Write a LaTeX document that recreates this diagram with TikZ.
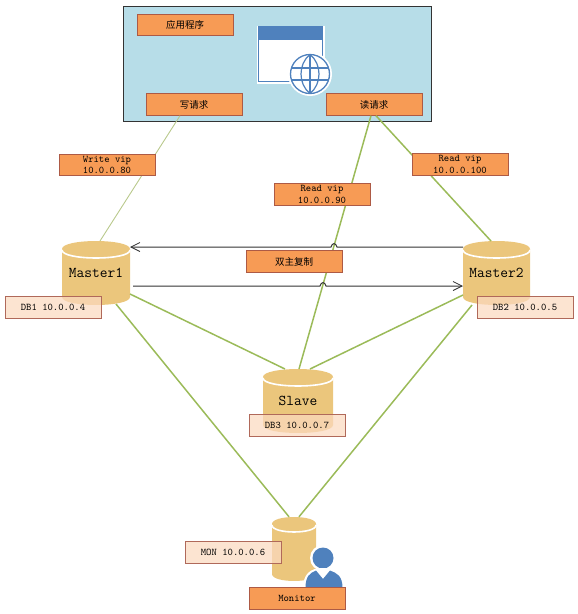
\documentclass[tikz,border=0pt]{standalone}
\usepackage{fontspec}
\newfontfamily\cjk{Noto Sans CJK SC}[Scale=1.0]
\usetikzlibrary{arrows.meta}
\definecolor{orangefill}{HTML}{F79B55}
\definecolor{orangeedge}{HTML}{AD5A45}
\definecolor{paleedge}{HTML}{B0695A}
\definecolor{palefill}{HTML}{FBD9BF}
\definecolor{cyl}{HTML}{EBC67C}
\definecolor{linkgreen}{HTML}{9BBB59}
\definecolor{thingreen}{HTML}{B9C98C}
\definecolor{iconblue}{HTML}{4F81BD}
\definecolor{appfill}{HTML}{B7DDE8}
\tikzset{
  lab/.style={draw=orangeedge,fill=orangefill,line width=0.9pt,minimum width=96pt,minimum height=21.5pt,inner sep=0pt,align=center,font=\ttfamily\fontsize{10.2}{11.5}\selectfont},
  cjklab/.style={lab,font=\cjk\fontsize{9.5}{11}\selectfont},
  pale/.style={draw=paleedge,fill=palefill,fill opacity=0.72,text opacity=1,line width=0.9pt,minimum width=96pt,minimum height=21.5pt,inner sep=0pt,font=\ttfamily\fontsize{10.2}{11}\selectfont},
  dbtext/.style={minimum width=#1,inner sep=0pt,font=\ttfamily\fontsize{15}{17}\selectfont},
  link/.style={draw=linkgreen,line width=1.5pt},
  thinlink/.style={draw=thingreen,line width=0.9pt},
  repl/.style={draw=black!80,line width=1pt,-{Straight Barb[length=9pt,width=9pt,line width=0.8pt]}},
}
% x, top y, width, height, ry
\newcommand{\dbshape}[5]{%
  \fill[cyl] (#1,#2+#5) -- (#1,#2+#4-#5)
     .. controls (#1,#2+#4+0.33*#5) and (#1+#3,#2+#4+0.33*#5) .. (#1+#3,#2+#4-#5)
     -- (#1+#3,#2+#5)
     .. controls (#1+#3,#2-0.33*#5) and (#1,#2-0.33*#5) .. cycle;
  \draw[white,line width=1.6pt] (#1,#2+#5+1)
     .. controls (#1,#2+2.33*#5+1) and (#1+#3,#2+2.33*#5+1) .. (#1+#3,#2+#5+1);
}
\begin{document}
\begin{tikzpicture}[x=1pt,y=-1pt]
\useasboundingbox (0,0) rectangle (578,614);
% application frame
\node[draw=black!80,fill=appfill,line width=1pt,minimum width=308pt,minimum height=115pt,inner sep=0pt] (app) at (277,63.5) {};
% window icon
\fill[white] (256.5,25.5) rectangle (324.5,83.5);
\fill[iconblue] (258,27) rectangle (323,40);
\draw[iconblue,line width=1.2pt] (258.5,27) rectangle (322.5,81.5);
\fill[white] (259.5,40) rectangle (321.5,80.5);
\fill[white] (310,74) circle (22);
\draw[iconblue,line width=1.3pt] (310,74) circle (19.5);
\draw[iconblue,line width=1.2pt] (310,54.5) .. controls (298,64) and (298,84) .. (310,93.5);
\draw[iconblue,line width=1.2pt] (310,54.5) .. controls (322,64) and (322,84) .. (310,93.5);
\draw[iconblue,line width=1.2pt] (310,54.5) -- (310,93.5);
\draw[iconblue,line width=1.2pt] (291,68) -- (329,68);
\draw[iconblue,line width=1.2pt] (291,80) -- (329,80);
% request and application labels
\node[cjklab] (appname) at (185,25) {应用程序};
\node[cjklab] (wreq) at (194,104.5) {写请求};
\node[cjklab] (rreq) at (374,104.5) {读请求};
% database shapes
\dbshape{62}{241}{68}{64}{8}
\dbshape{463}{241}{67}{64}{8}
\dbshape{263}{369}{70}{64}{8}
\dbshape{272}{517}{44}{64}{7}
\node[dbtext=68pt] (m1) at (96,273) {Master1};
\node[dbtext=67pt] (m2) at (496.5,273) {Master2};
\node[dbtext=70pt] (slave) at (298,401) {Slave};
\node[minimum width=44pt,minimum height=64pt,inner sep=0pt] (mon) at (294,549) {};
% connectors
\path (m1.center) ++(0,-32) coordinate (m1t) (m2.center) ++(0,-32) coordinate (m2t) (slave.center) ++(0,-32) coordinate (st) (mon.north) coordinate (mt);
\draw[thinlink] ([xshift=-14]wreq.south) -- ([xshift=4]m1t);
\draw[link] ([xshift=-3]rreq.south) -- ([xshift=1]st);
\draw[link] ([xshift=2]rreq.south) -- ([xshift=-5.5]m2t);
\draw[link] ([shift={(34,53)}]m1t) -- ([xshift=-13]st);
\draw[link] ([shift={(20,63)}]m1t) -- ([xshift=-5]mt);
\draw[link] ([shift={(-33.5,54)}]m2t) -- ([xshift=12]st);
\draw[link] ([shift={(-24.5,64)}]m2t) -- ([xshift=5]mt);
% replication arrows with line jumps
\coordinate (hopa) at (334,247);
\coordinate (hopb) at (323,286);
\draw[repl] ([shift={(-33.5,6)}]m2t) -- ([xshift=3]hopa) .. controls ([shift={(2,-4.5)}]hopa) and ([shift={(-2,-4.5)}]hopa) .. ([xshift=-3]hopa) -- ([shift={(34,6)}]m1t);
\draw[repl] ([shift={(37,45)}]m1t) -- ([xshift=-3]hopb) .. controls ([shift={(-2,-4.5)}]hopb) and ([shift={(2,-4.5)}]hopb) .. ([xshift=3]hopb) -- ([shift={(-33.5,45)}]m2t);
% vip labels
\node[lab] (wvip) at (107,165) {Write vip\\10.0.0.80};
\node[lab] (rvipa) at (322,194.5) {Read vip\\10.0.0.90};
\node[lab] (rvipb) at (460,164.5) {Read vip\\10.0.0.100};
\node[cjklab] (dual) at (294,261.5) {双主复制};
% host labels
\node[pale] (db1) at (53,307.5) {DB1 10.0.0.4};
\node[pale] (db2) at (525,307.5) {DB2 10.0.0.5};
\node[pale] (db3) at (297,425.5) {DB3 10.0.0.7};
\node[pale] (monl) at (233,552.5) {MON 10.0.0.6};
% person icon
\fill[white] (323,558) circle (13);
\fill[iconblue] (323,558) circle (10.5);
\fill[white] (303,589) .. controls (303,574) and (310,568) .. (323,568) .. controls (336,568) and (344,574) .. (344,589) -- cycle;
\fill[iconblue] (305.5,588) .. controls (305.5,576) and (310,573) .. (316,570.5) -- (323,579) -- (330,570.5) .. controls (337,573) and (342.5,576) .. (342.5,588) -- cycle;
\node[lab] (monitor) at (297,598.5) {Monitor};
\end{tikzpicture}
\end{document}
